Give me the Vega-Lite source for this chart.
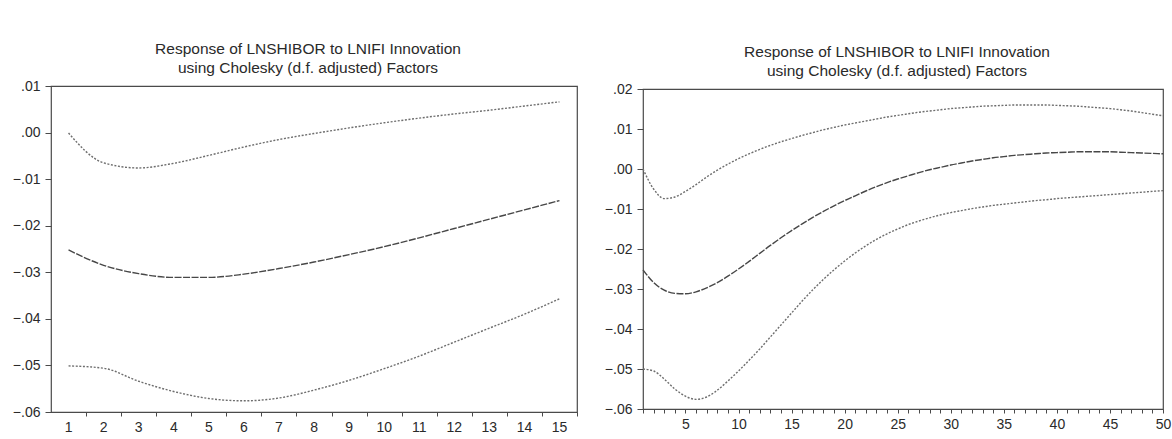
{
  "$schema": "https://vega.github.io/schema/vega-lite/v6.json",
  "background": "#ffffff",
  "padding": {"left": 11, "top": 40, "right": 1, "bottom": 2},
  "spacing": 66,
  "center": true,
  "bounds": "flush",
  "config": {
    "font": "Liberation Sans",
    "view": {"stroke": "#4a4a4a", "strokeWidth": 1.2, "fill": "#ffffff"},
    "axis": {"labelFont": "Liberation Sans", "labelFontSize": 14, "labelColor": "#2a2a2a", "tickColor": "#4a4a4a", "grid": false, "domain": false, "title": null, "labelOverlap": false, "tickCount": 100},
    "title": {"font": "Liberation Sans", "fontSize": 15.5, "fontWeight": "normal", "color": "#2a2a2a", "lineHeight": 19, "offset": 3, "anchor": "middle", "dx": -6},
    "line": {"strokeWidth": 1.4, "interpolate": "monotone"}
  },
  "datasets": {
    "left": [
      {"h":1,"s":"Response","v":-0.0252},{"h":2,"s":"Response","v":-0.0285},{"h":3,"s":"Response","v":-0.0303},{"h":4,"s":"Response","v":-0.0311},{"h":5,"s":"Response","v":-0.0311},{"h":6,"s":"Response","v":-0.0304},{"h":7,"s":"Response","v":-0.0292},{"h":8,"s":"Response","v":-0.0278},{"h":9,"s":"Response","v":-0.0262},{"h":10,"s":"Response","v":-0.0245},{"h":11,"s":"Response","v":-0.0226},{"h":12,"s":"Response","v":-0.0206},{"h":13,"s":"Response","v":-0.0186},{"h":14,"s":"Response","v":-0.0166},{"h":15,"s":"Response","v":-0.0146},
      {"h":1,"s":"Upper","v":-0.0001},{"h":2,"s":"Upper","v":-0.0065},{"h":3,"s":"Upper","v":-0.0076},{"h":4,"s":"Upper","v":-0.0066},{"h":5,"s":"Upper","v":-0.0049},{"h":6,"s":"Upper","v":-0.0031},{"h":7,"s":"Upper","v":-0.0015},{"h":8,"s":"Upper","v":-0.0002},{"h":9,"s":"Upper","v":0.0010},{"h":10,"s":"Upper","v":0.0021},{"h":11,"s":"Upper","v":0.0031},{"h":12,"s":"Upper","v":0.0040},{"h":13,"s":"Upper","v":0.0048},{"h":14,"s":"Upper","v":0.0057},{"h":15,"s":"Upper","v":0.0066},
      {"h":1,"s":"Lower","v":-0.0501},{"h":2,"s":"Lower","v":-0.0506},{"h":3,"s":"Lower","v":-0.0534},{"h":4,"s":"Lower","v":-0.0556},{"h":5,"s":"Lower","v":-0.0571},{"h":6,"s":"Lower","v":-0.0576},{"h":7,"s":"Lower","v":-0.0570},{"h":8,"s":"Lower","v":-0.0553},{"h":9,"s":"Lower","v":-0.0532},{"h":10,"s":"Lower","v":-0.0507},{"h":11,"s":"Lower","v":-0.0480},{"h":12,"s":"Lower","v":-0.0450},{"h":13,"s":"Lower","v":-0.0420},{"h":14,"s":"Lower","v":-0.0390},{"h":15,"s":"Lower","v":-0.0357}
    ],
    "right": [
      {"h":1,"s":"Response","v":-0.0252},{"h":2,"s":"Response","v":-0.0284},{"h":3,"s":"Response","v":-0.0303},{"h":4,"s":"Response","v":-0.0311},{"h":5,"s":"Response","v":-0.0312},{"h":6,"s":"Response","v":-0.0307},{"h":7,"s":"Response","v":-0.0297},{"h":8,"s":"Response","v":-0.0284},{"h":9,"s":"Response","v":-0.0268},{"h":10,"s":"Response","v":-0.0250},
      {"h":11,"s":"Response","v":-0.0231},{"h":12,"s":"Response","v":-0.0211},{"h":13,"s":"Response","v":-0.0191},{"h":14,"s":"Response","v":-0.0172},{"h":15,"s":"Response","v":-0.0154},{"h":16,"s":"Response","v":-0.0137},{"h":17,"s":"Response","v":-0.0121},{"h":18,"s":"Response","v":-0.0106},{"h":19,"s":"Response","v":-0.0092},{"h":20,"s":"Response","v":-0.0079},
      {"h":21,"s":"Response","v":-0.0067},{"h":22,"s":"Response","v":-0.0055},{"h":23,"s":"Response","v":-0.0044},{"h":24,"s":"Response","v":-0.0034},{"h":25,"s":"Response","v":-0.0025},{"h":26,"s":"Response","v":-0.0017},{"h":27,"s":"Response","v":-0.0009},{"h":28,"s":"Response","v":-0.0002},{"h":29,"s":"Response","v":0.0004},{"h":30,"s":"Response","v":0.0010},
      {"h":31,"s":"Response","v":0.0015},{"h":32,"s":"Response","v":0.0020},{"h":33,"s":"Response","v":0.0024},{"h":34,"s":"Response","v":0.0028},{"h":35,"s":"Response","v":0.0031},{"h":36,"s":"Response","v":0.0034},{"h":37,"s":"Response","v":0.0036},{"h":38,"s":"Response","v":0.0038},{"h":39,"s":"Response","v":0.0040},{"h":40,"s":"Response","v":0.0041},
      {"h":41,"s":"Response","v":0.0042},{"h":42,"s":"Response","v":0.0043},{"h":43,"s":"Response","v":0.0043},{"h":44,"s":"Response","v":0.0043},{"h":45,"s":"Response","v":0.0043},{"h":46,"s":"Response","v":0.0042},{"h":47,"s":"Response","v":0.0041},{"h":48,"s":"Response","v":0.0040},{"h":49,"s":"Response","v":0.0039},{"h":50,"s":"Response","v":0.0038},
      {"h":1,"s":"Upper","v":0.0000},{"h":2,"s":"Upper","v":-0.0050},{"h":3,"s":"Upper","v":-0.0074},{"h":4,"s":"Upper","v":-0.0070},{"h":5,"s":"Upper","v":-0.0056},{"h":6,"s":"Upper","v":-0.0039},{"h":7,"s":"Upper","v":-0.0020},{"h":8,"s":"Upper","v":-0.0003},{"h":9,"s":"Upper","v":0.0012},{"h":10,"s":"Upper","v":0.0026},
      {"h":11,"s":"Upper","v":0.0038},{"h":12,"s":"Upper","v":0.0049},{"h":13,"s":"Upper","v":0.0059},{"h":14,"s":"Upper","v":0.0068},{"h":15,"s":"Upper","v":0.0076},{"h":16,"s":"Upper","v":0.0084},{"h":17,"s":"Upper","v":0.0091},{"h":18,"s":"Upper","v":0.0098},{"h":19,"s":"Upper","v":0.0104},{"h":20,"s":"Upper","v":0.0110},
      {"h":21,"s":"Upper","v":0.0115},{"h":22,"s":"Upper","v":0.0120},{"h":23,"s":"Upper","v":0.0125},{"h":24,"s":"Upper","v":0.0130},{"h":25,"s":"Upper","v":0.0134},{"h":26,"s":"Upper","v":0.0138},{"h":27,"s":"Upper","v":0.0142},{"h":28,"s":"Upper","v":0.0145},{"h":29,"s":"Upper","v":0.0148},{"h":30,"s":"Upper","v":0.0151},
      {"h":31,"s":"Upper","v":0.0153},{"h":32,"s":"Upper","v":0.0155},{"h":33,"s":"Upper","v":0.0157},{"h":34,"s":"Upper","v":0.0158},{"h":35,"s":"Upper","v":0.0159},{"h":36,"s":"Upper","v":0.0160},{"h":37,"s":"Upper","v":0.0160},{"h":38,"s":"Upper","v":0.0160},{"h":39,"s":"Upper","v":0.0160},{"h":40,"s":"Upper","v":0.0159},
      {"h":41,"s":"Upper","v":0.0158},{"h":42,"s":"Upper","v":0.0157},{"h":43,"s":"Upper","v":0.0155},{"h":44,"s":"Upper","v":0.0153},{"h":45,"s":"Upper","v":0.0151},{"h":46,"s":"Upper","v":0.0148},{"h":47,"s":"Upper","v":0.0145},{"h":48,"s":"Upper","v":0.0141},{"h":49,"s":"Upper","v":0.0137},{"h":50,"s":"Upper","v":0.0133},
      {"h":1,"s":"Lower","v":-0.0500},{"h":2,"s":"Lower","v":-0.0505},{"h":3,"s":"Lower","v":-0.0525},{"h":4,"s":"Lower","v":-0.0550},{"h":5,"s":"Lower","v":-0.0568},{"h":6,"s":"Lower","v":-0.0576},{"h":7,"s":"Lower","v":-0.0570},{"h":8,"s":"Lower","v":-0.0553},{"h":9,"s":"Lower","v":-0.0530},{"h":10,"s":"Lower","v":-0.0505},
      {"h":11,"s":"Lower","v":-0.0478},{"h":12,"s":"Lower","v":-0.0450},{"h":13,"s":"Lower","v":-0.0420},{"h":14,"s":"Lower","v":-0.0390},{"h":15,"s":"Lower","v":-0.0360},{"h":16,"s":"Lower","v":-0.0330},{"h":17,"s":"Lower","v":-0.0302},{"h":18,"s":"Lower","v":-0.0276},{"h":19,"s":"Lower","v":-0.0252},{"h":20,"s":"Lower","v":-0.0230},
      {"h":21,"s":"Lower","v":-0.0210},{"h":22,"s":"Lower","v":-0.0192},{"h":23,"s":"Lower","v":-0.0176},{"h":24,"s":"Lower","v":-0.0162},{"h":25,"s":"Lower","v":-0.0150},{"h":26,"s":"Lower","v":-0.0139},{"h":27,"s":"Lower","v":-0.0130},{"h":28,"s":"Lower","v":-0.0122},{"h":29,"s":"Lower","v":-0.0115},{"h":30,"s":"Lower","v":-0.0109},
      {"h":31,"s":"Lower","v":-0.0104},{"h":32,"s":"Lower","v":-0.0099},{"h":33,"s":"Lower","v":-0.0095},{"h":34,"s":"Lower","v":-0.0091},{"h":35,"s":"Lower","v":-0.0088},{"h":36,"s":"Lower","v":-0.0085},{"h":37,"s":"Lower","v":-0.0082},{"h":38,"s":"Lower","v":-0.0079},{"h":39,"s":"Lower","v":-0.0077},{"h":40,"s":"Lower","v":-0.0074},
      {"h":41,"s":"Lower","v":-0.0072},{"h":42,"s":"Lower","v":-0.0070},{"h":43,"s":"Lower","v":-0.0068},{"h":44,"s":"Lower","v":-0.0066},{"h":45,"s":"Lower","v":-0.0064},{"h":46,"s":"Lower","v":-0.0062},{"h":47,"s":"Lower","v":-0.0060},{"h":48,"s":"Lower","v":-0.0058},{"h":49,"s":"Lower","v":-0.0056},{"h":50,"s":"Lower","v":-0.0054}
    ]
  },
  "hconcat": [
    {
      "title": {"text": ["Response of LNSHIBOR to LNIFI Innovation", "using Cholesky (d.f. adjusted) Factors"]},
      "width": 526,
      "height": 326,
      "layer": [
        {
          "data": {"name": "left"},
          "mark": {"type": "line"},
          "encoding": {
            "x": {"field": "h", "type": "quantitative", "scale": {"domain": [0.5, 15.5], "nice": false, "zero": false},
                  "axis": {"values": [1.5,2.5,3.5,4.5,5.5,6.5,7.5,8.5,9.5,10.5,11.5,12.5,13.5,14.5,15.5], "tickCount": 100, "labelExpr": "format(datum.value - 0.5, 'd')", "labelOffset": -18, "labelFlush": false, "labelOverlap": false, "tickSize": 4, "labelPadding": 4}},
            "y": {"field": "v", "type": "quantitative", "scale": {"domain": [-0.06, 0.01], "nice": false, "zero": false},
                  "axis": {"values": [-0.06,-0.05,-0.04,-0.03,-0.02,-0.01,0,0.01], "tickCount": 100, "labelExpr": "replace(format(datum.value, '.2f'), '0.', '.')", "labelOverlap": false, "tickSize": 6, "labelPadding": 5}},
            "color": {"field": "s", "type": "nominal", "scale": {"domain": ["Lower", "Response", "Upper"], "range": ["#6e6e6e", "#474747", "#6e6e6e"]}, "legend": null},
            "strokeDash": {"field": "s", "type": "nominal", "scale": {"domain": ["Lower", "Response", "Upper"], "range": [[2, 1.6], [7, 1.5], [2, 1.6]]}, "legend": null}
          }
        },
        {
          "mark": {"type": "rule", "color": "#4a4a4a", "strokeWidth": 1.2},
          "encoding": {"y": {"datum": 0}}
        }
      ]
    },
    {
      "title": {"text": ["Response of LNSHIBOR to LNIFI Innovation", "using Cholesky (d.f. adjusted) Factors"]},
      "width": 520,
      "height": 320,
      "layer": [
        {
          "data": {"name": "right"},
          "mark": {"type": "line"},
          "encoding": {
            "x": {"field": "h", "type": "quantitative", "scale": {"domain": [1, 50], "nice": false, "zero": false},
                  "axis": {"values": [1,2,3,4,5,6,7,8,9,10,11,12,13,14,15,16,17,18,19,20,21,22,23,24,25,26,27,28,29,30,31,32,33,34,35,36,37,38,39,40,41,42,43,44,45,46,47,48,49,50], "tickCount": 100, "labelExpr": "datum.value % 5 === 0 ? '' + datum.value : ''", "labelFlush": false, "labelOverlap": false, "tickSize": 4, "labelPadding": 4}},
            "y": {"field": "v", "type": "quantitative", "scale": {"domain": [-0.06, 0.02], "nice": false, "zero": false},
                  "axis": {"values": [-0.06,-0.05,-0.04,-0.03,-0.02,-0.01,0,0.01,0.02], "tickCount": 100, "labelExpr": "replace(format(datum.value, '.2f'), '0.', '.')", "labelOverlap": false, "tickSize": 6, "labelPadding": 5}},
            "color": {"field": "s", "type": "nominal", "scale": {"domain": ["Lower", "Response", "Upper"], "range": ["#6e6e6e", "#474747", "#6e6e6e"]}, "legend": null},
            "strokeDash": {"field": "s", "type": "nominal", "scale": {"domain": ["Lower", "Response", "Upper"], "range": [[2, 1.6], [1, 0], [2, 1.6]]}, "legend": null}
          }
        },
        {
          "mark": {"type": "rule", "color": "#4a4a4a", "strokeWidth": 1.2},
          "encoding": {"y": {"datum": 0}}
        }
      ]
    }
  ]
}
